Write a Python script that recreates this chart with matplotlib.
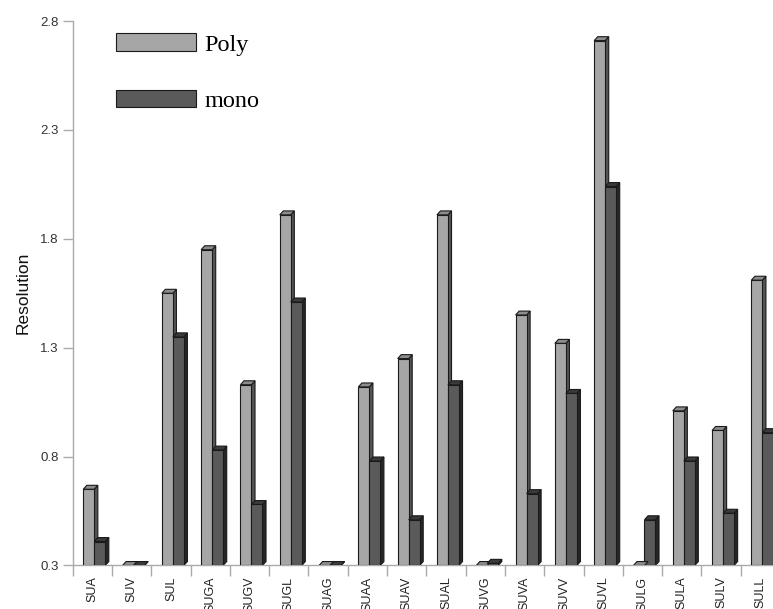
import matplotlib.pyplot as plt
from matplotlib.patches import Polygon, Patch

categories = ['SUA', 'SUV', 'SUL', 'SUGA', 'SUGV', 'SUGL', 'SUAG', 'SUAA', 'SUAV',
              'SUAL', 'SUVG', 'SUVA', 'SUVV', 'SUVL', 'SULG', 'SULA', 'SULV', 'SULL']
poly = [0.65, 0.30, 1.55, 1.75, 1.13, 1.91, 0.30, 1.12, 1.25,
        1.91, 0.30, 1.45, 1.32, 2.71, 0.30, 1.01, 0.92, 1.61]
mono = [0.41, 0.30, 1.35, 0.83, 0.58, 1.51, 0.30, 0.78, 0.51,
        1.13, 0.31, 0.63, 1.09, 2.04, 0.51, 0.78, 0.54, 0.91]
yticks = [0.3, 0.8, 1.3, 1.8, 2.3, 2.8]

plt.rcParams['font.family'] = ['Liberation Sans', 'DejaVu Sans']

fig = plt.figure(figsize=(7.73, 6.09), dpi=100)
ax = fig.add_axes([0.094, 0.0715, 0.906, 0.894])

ymin, ymax = 0.3, 2.8
w = 0.28          # bar width
dx, dy = 0.09, 0.018   # depth of the fake 3D side/top faces

def bar3d(x0, h, front, side, top):
    ax.bar(x0, h - ymin, width=w, bottom=ymin, align='edge',
           color=front, edgecolor='#1a1a1a', linewidth=0.8, zorder=3)
    # right side face
    ax.add_patch(Polygon([(x0 + w, ymin), (x0 + w + dx, ymin + dy),
                          (x0 + w + dx, h + dy), (x0 + w, h)],
                         closed=True, facecolor=side, edgecolor='#1a1a1a',
                         linewidth=0.8, zorder=2))
    # top face
    ax.add_patch(Polygon([(x0, h), (x0 + dx, h + dy),
                          (x0 + w + dx, h + dy), (x0 + w, h)],
                         closed=True, facecolor=top, edgecolor='#1a1a1a',
                         linewidth=0.8, zorder=4))

for i in range(len(categories)):
    bar3d(i - 0.23, poly[i], '#a6a6a6', '#555555', '#8c8c8c')
    bar3d(i + 0.05, mono[i], '#5a5a5a', '#262626', '#3a3a3a')

# last group runs past the right edge
ax.set_xlim(-0.5, 17.32)
ax.set_ylim(ymin, ymax)
ax.set_yticks(yticks)
ax.set_yticklabels([f'{t:.1f}' for t in yticks])
ax.set_xticks(range(len(categories)))
ax.set_xticklabels(categories, rotation=90, fontsize=9, color='#222222')
ax.set_xticks([i - 0.5 for i in range(len(categories))], minor=True)
ax.tick_params(axis='x', which='major', length=0, pad=8)
ax.tick_params(axis='x', which='minor', length=8, color='#aaaaaa', width=1)
ax.tick_params(axis='y', length=7, color='#aaaaaa', width=1,
               labelsize=9.5, labelcolor='#333333', pad=3)

for s in ['top', 'right']:
    ax.spines[s].set_visible(False)
for s in ['left', 'bottom']:
    ax.spines[s].set_color('#aaaaaa')
    ax.spines[s].set_linewidth(1)

ax.set_ylabel('Resolution', fontsize=12.5, color='#111111', labelpad=7)

handles = [Patch(facecolor='#a6a6a6', edgecolor='#1a1a1a', linewidth=0.8),
           Patch(facecolor='#5a5a5a', edgecolor='#1a1a1a', linewidth=0.8)]
ax.legend(handles, ['Poly', 'mono'], loc='upper left',
          bbox_to_anchor=(0.037, 1.009), frameon=False,
          prop={'family': 'Liberation Serif', 'size': 17.5},
          handlelength=3.3, handleheight=0.75, handletextpad=0.35,
          labelspacing=1.4, borderaxespad=0.3)

fig.savefig('out.png', dpi=100)
